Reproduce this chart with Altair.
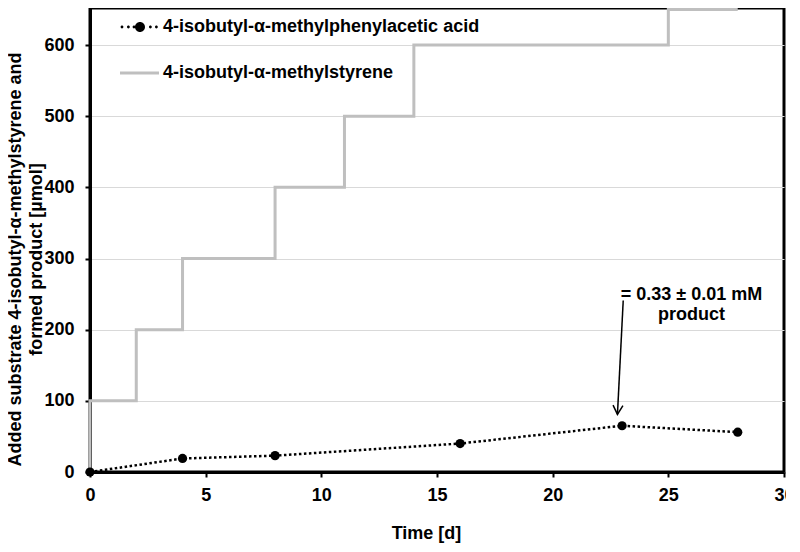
import altair as alt
import pandas as pd

# ---- data ----
time_substrate = [0, 0, 2, 4, 8, 11, 14, 25, 28]
substrate_added = [0, 100, 200, 300, 400, 500, 600, 650, 650]
time_product = [0, 4, 8, 16, 23, 28]
product_formed = [0, 19, 23, 40, 65, 56]
series_names = ["4-isobutyl-α-methylphenylacetic acid", "4-isobutyl-α-methylstyrene"]
note_lines = ["= 0.33 ± 0.01 mM", "product"]
note_pos = [26.0, 249]
arrow_from = [23.05, 241]
arrow_to = [22.8, 81]
x_ticks = [0, 5, 10, 15, 20, 25, 30]
y_ticks = [0, 100, 200, 300, 400, 500, 600]

FONT = "Liberation Sans"

sub_df = pd.DataFrame({"t": time_substrate, "v": substrate_added})
prod_df = pd.DataFrame({"t": time_product, "v": product_formed})
note_df = pd.DataFrame({"t": [note_pos[0]], "v": [note_pos[1]]})
arrow_df = pd.DataFrame({"t": [arrow_from[0]], "v": [arrow_from[1]],
                         "t2": [arrow_to[0]], "v2": [arrow_to[1]]})
legend_df = pd.DataFrame({"series": series_names})

xs = alt.Scale(domain=[0, 30], nice=False)
ys = alt.Scale(domain=[0, 652], nice=False)

x_axis = alt.Axis(values=x_ticks, grid=False, domainColor="black", domainWidth=3,
                  tickColor="black", tickWidth=2, tickSize=5, labelFlush=False,
                  labelFont=FONT, labelFontSize=18, labelFontWeight="bold", labelColor="black",
                  labelPadding=9, title="Time [d]", titleFont=FONT, titleFontSize=18,
                  titleFontWeight="bold", titleColor="black", titleX=336, titleY=66,
                  titleAlign="center", titleBaseline="alphabetic")
y_axis = alt.Axis(values=y_ticks, grid=True, gridColor="#D9D9D9", gridWidth=1,
                  domainColor="black", domainWidth=3, labelFlush=False,
                  tickColor="black", tickWidth=2, tickSize=5,
                  labelFont=FONT, labelFontSize=18, labelFontWeight="bold", labelColor="black",
                  labelPadding=11,
                  title=["Added substrate 4-isobutyl-α-methylstyrene and", "formed product [µmol]"],
                  titleFont=FONT, titleFontSize=18, titleFontWeight="bold", titleColor="black",
                  titleAngle=270, titleX=-70, titleY=251, titleAlign="center",
                  titleBaseline="alphabetic", titleLineHeight=21)

stairs = alt.Chart(sub_df).mark_line(interpolate="step-after", color="#BFBFBF", strokeWidth=3).encode(
    x=alt.X("t:Q", scale=xs, axis=x_axis),
    y=alt.Y("v:Q", scale=ys, axis=y_axis),
)

prod_line = alt.Chart(prod_df).mark_line(color="black", strokeWidth=2.5, strokeDash=[2.5, 2.5]).encode(
    x=alt.X("t:Q", scale=xs), y=alt.Y("v:Q", scale=ys))
prod_pts = alt.Chart(prod_df).mark_point(filled=True, color="black", size=85, opacity=1).encode(
    x=alt.X("t:Q", scale=xs), y=alt.Y("v:Q", scale=ys))

arrow = alt.Chart(arrow_df).mark_rule(color="black", strokeWidth=1.5).encode(
    x=alt.X("t:Q", scale=xs), y=alt.Y("v:Q", scale=ys), x2="t2:Q", y2="v2:Q")
arrow_head = alt.Chart(arrow_df).mark_point(
    shape="M-0.55,-1L0,0L0.55,-1", filled=False, stroke="black", strokeWidth=1.5,
    size=324, angle=3.5, opacity=1).encode(
    x=alt.X("t2:Q", scale=xs), y=alt.Y("v2:Q", scale=ys))

note = alt.Chart(note_df).mark_text(text=note_lines, font=FONT, fontSize=18, fontWeight="bold",
                                    color="black", align="center", baseline="middle",
                                    lineHeight=20).encode(
    x=alt.X("t:Q", scale=xs), y=alt.Y("v:Q", scale=ys))


def dot(cx, r):
    return f"M{cx - r},0A{r},{r},0,1,1,{cx + r},0A{r},{r},0,1,1,{cx - r},0Z"


sym_acid = "".join([dot(c, 0.07) for c in (-0.9, -0.58, -0.3, 0.52, 0.82)]) + dot(0, 0.25)
sym_styrene = "M-1,-0.075H0.95V0.075H-1Z"

leg = alt.Legend(orient="none", legendX=30, legendY=-1, title=None, labelFont=FONT,
                 labelFontSize=18, labelFontWeight="bold", labelColor="black", labelOffset=3,
                 labelLimit=500, rowPadding=17, symbolSize=1600, symbolStrokeWidth=0,
                 symbolOpacity=1)

legend_layer = alt.Chart(legend_df).transform_filter("false").mark_point(filled=True, size=1600).encode(
    color=alt.Color("series:N", scale=alt.Scale(domain=series_names, range=["black", "#BFBFBF"]),
                    legend=leg),
    shape=alt.Shape("series:N", scale=alt.Scale(domain=series_names, range=[sym_acid, sym_styrene]),
                    legend=leg),
)

chart = alt.layer(stairs, prod_line, prod_pts, arrow, arrow_head, note, legend_layer).properties(
    width=694, height=464, background="white",
    padding={"left": 82, "top": 0, "right": 2, "bottom": 72},
    autosize=alt.AutoSizeParams(type="none"),
).configure_view(stroke="black", strokeWidth=3)

chart.save("out.html", embed_options={"renderer": "svg", "actions": False})
